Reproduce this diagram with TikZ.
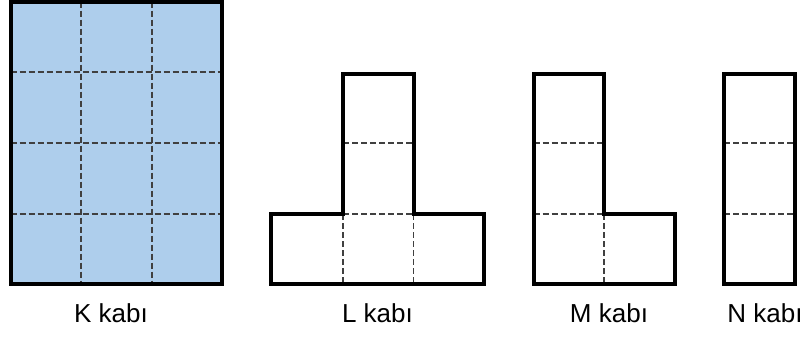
\documentclass[tikz,border=0pt]{standalone}
\usepackage{fontspec}
\setmainfont{Liberation Sans}
\definecolor{kblue}{RGB}{174,206,236}
\tikzset{
  outline/.style={draw=black, line width=4pt, line join=miter},
  grid/.style={draw=black!75, line width=1.4pt, dash pattern=on 6pt off 3pt},
  lab/.style={anchor=base, font=\fontsize{26}{30}\selectfont, inner sep=0pt}
}
\begin{document}
\begin{tikzpicture}[x=1pt,y=-1pt]
\useasboundingbox (0,0) rectangle (809,338);
% K
\fill[kblue] (10.5,1.5) rectangle (222,284);
\draw[grid] (81,1.5) -- (81,284) (152,1.5) -- (152,284)
  (10.5,72) -- (222,72) (10.5,143) -- (222,143) (10.5,214) -- (222,214);
\draw[outline] (10.5,1.5) rectangle (222,284);
% L
\draw[grid] (343,143) -- (413.5,143) (343,214) -- (413.5,214)
  (343,214) -- (343,284) (413.5,214) -- (413.5,284);
\draw[outline] (343,73.5) -- (413.5,73.5) -- (413.5,214) -- (483.5,214) -- (483.5,284)
  -- (271,284) -- (271,214) -- (343,214) -- cycle;
% M
\draw[grid] (533.5,143) -- (604,143) (533.5,214) -- (604,214) (604,214) -- (604,284);
\draw[outline] (533.5,73.5) -- (604,73.5) -- (604,214) -- (674.5,214) -- (674.5,284)
  -- (533.5,284) -- cycle;
% N
\draw[grid] (724,143) -- (795,143) (724,214) -- (795,214);
\draw[outline] (724,73.5) rectangle (795,284);
% labels
\node[lab] (k) at (111,322) {K kabı};
\node[lab] (l) at (377.5,322) {L kabı};
\node[lab] (m) at (609,322) {M kabı};
\node[lab] (n) at (765,322) {N kabı};
\end{tikzpicture}
\end{document}
